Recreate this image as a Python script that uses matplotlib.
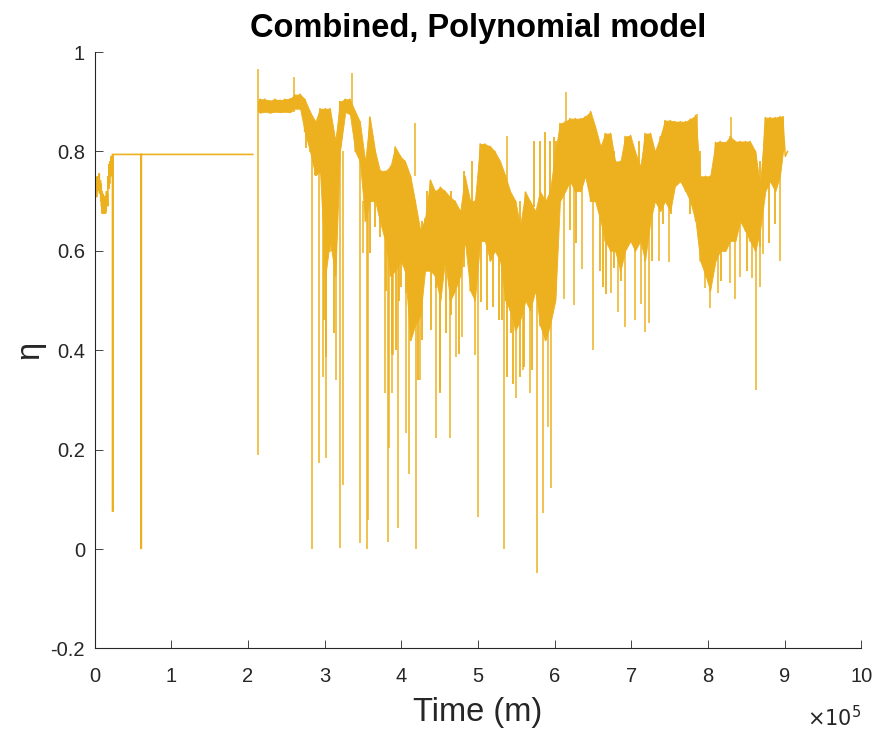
import numpy as np
import matplotlib
matplotlib.use("Agg")
import matplotlib.pyplot as plt
from matplotlib.ticker import FuncFormatter, MultipleLocator

plt.rcParams['font.family'] = ['Liberation Sans', 'DejaVu Sans']
plt.rcParams['axes.unicode_minus'] = False

COLOR = '#EDB120'
AXC = '#262626'

# ---- data (time in thousands of minutes, efficiency eta) ----
# early noisy segment + flat hold segment
early_t = [0, 0.5, 1, 1.5, 2, 2.5, 3.5, 4, 5, 5.5, 6, 6.5, 7.5, 8, 8.5, 9, 9.5, 10, 10.5, 11, 11.5, 12,
           12.5, 13, 13.5, 14, 14.5, 15, 15.5, 16, 16.5, 17, 17.5, 18.5, 19, 19.5, 20, 21, 21.5, 22, 23.5,
           23.5, 23.5, 60.8, 60.8, 60.8, 206.3]
early_y = [0.73, 0.712, 0.748, 0.715, 0.735, 0.708, 0.75, 0.72, 0.745, 0.73, 0.756, 0.715, 0.742, 0.70,
           0.735, 0.69, 0.72, 0.675, 0.715, 0.68, 0.70, 0.675, 0.71, 0.676, 0.70, 0.675, 0.712, 0.678, 0.72,
           0.69, 0.715, 0.69, 0.75, 0.725, 0.775, 0.735, 0.78, 0.75, 0.79, 0.765, 0.794,
           0.075, 0.794, 0.794, 0.0, 0.794, 0.794]

# dense part: envelope of the signal (column time, upper value, lower value)
band_t = [214, 216, 222, 229, 235, 242, 248, 255, 261, 268, 274, 281, 288, 294, 301, 307, 314, 320, 327, 333,
          340, 346, 353, 359, 366, 372, 379, 386, 392, 399, 405, 412, 418, 425, 431, 438, 444, 451, 457, 464,
          470, 477, 483, 490, 496, 503, 509, 516, 522, 529, 536, 542, 549, 555, 562, 568, 575, 581, 588, 594,
          601, 607, 614, 620, 627, 634, 640, 647, 653, 660, 666, 673, 679, 686, 692, 699, 705, 712, 718, 725,
          731, 738, 744, 751, 757, 764, 771, 777, 784, 790, 797, 803, 810, 816, 823, 829, 836, 842, 849, 855,
          862, 868, 875, 881, 888, 894, 898]
band_hi = [0.90, 0.905, 0.905, 0.902, 0.905, 0.903, 0.905, 0.906, 0.914, 0.915, 0.905, 0.88, 0.86, 0.886, 0.886,
           0.886, 0.822, 0.90, 0.905, 0.905, 0.88, 0.86, 0.78, 0.869, 0.80, 0.762, 0.76, 0.77, 0.809, 0.79,
           0.78, 0.75, 0.70, 0.64, 0.665, 0.742, 0.72, 0.728, 0.72, 0.708, 0.70, 0.68, 0.75, 0.70, 0.70, 0.815,
           0.815, 0.81, 0.80, 0.78, 0.75, 0.72, 0.70, 0.65, 0.718, 0.70, 0.68, 0.72, 0.70, 0.72, 0.80, 0.856,
           0.86, 0.866, 0.866, 0.866, 0.87, 0.88, 0.85, 0.81, 0.836, 0.836, 0.78, 0.78, 0.83, 0.832, 0.80,
           0.77, 0.836, 0.836, 0.80, 0.83, 0.862, 0.862, 0.86, 0.86, 0.86, 0.865, 0.872, 0.75, 0.75, 0.75,
           0.818, 0.82, 0.818, 0.83, 0.82, 0.82, 0.82, 0.82, 0.80, 0.73, 0.868, 0.868, 0.868, 0.87, 0.87]
band_lo = [0.88, 0.878, 0.880, 0.878, 0.880, 0.879, 0.880, 0.879, 0.886, 0.886, 0.840, 0.80, 0.752, 0.76, 0.55,
           0.62, 0.55, 0.80, 0.879, 0.875, 0.80, 0.78, 0.66, 0.70, 0.70, 0.66, 0.62, 0.55, 0.56, 0.58,
           0.56, 0.42, 0.45, 0.47, 0.56, 0.56, 0.55, 0.50, 0.58, 0.50, 0.52, 0.55, 0.62, 0.52, 0.50, 0.62,
           0.62, 0.58, 0.60, 0.58, 0.50, 0.48, 0.44, 0.46, 0.50, 0.48, 0.52, 0.45, 0.42, 0.45, 0.50, 0.70,
           0.72, 0.74, 0.72, 0.72, 0.75, 0.70, 0.70, 0.66, 0.62, 0.60, 0.60, 0.56, 0.60, 0.62, 0.60,
           0.62, 0.58, 0.66, 0.70, 0.68, 0.70, 0.68, 0.73, 0.74, 0.72, 0.70, 0.66, 0.58, 0.55, 0.52,
           0.58, 0.60, 0.60, 0.62, 0.62, 0.66, 0.64, 0.62, 0.60, 0.64, 0.72, 0.74, 0.72, 0.75, 0.80]

# isolated excursions of the signal (time, one end, other end)
spike_t = [213.6, 259.5, 283.7, 292.8, 297.7, 301.6, 307.2, 315.0, 320.2, 323.8, 335.5, 346.7, 350.3, 355.1,
           356.4, 379.0, 382.5, 384.6, 388.1, 389.4, 395.6, 406.4, 409.9, 417.8, 419.1, 424.7, 445.6, 450.8,
           463.8, 471.3, 479.1, 495.6, 499.7, 534.0, 537.9, 550.0, 558.8, 567.4, 577.0, 584.9, 591.4, 595.7,
           611.8, 615.3, 624.8, 635.8, 650.1, 674.0, 682.5, 692.3, 704.4, 713.2, 718.4, 722.7, 736.7, 749.8,
           785.9, 796.6, 802.4, 812.8, 828.5, 830.3, 835.9, 842.4, 857.7, 862.9, 867.6, 872.1, 894.7]
spike_a = [0.189, 0.88, 0.0, 0.173, 0.346, 0.183, 0.598, 0.34, 0.002, 0.128, 0.88, 0.012, 0.596, 0.0,
           0.058, 0.313, 0.015, 0.203, 0.314, 0.39, 0.042, 0.233, 0.152, 0.75, 0.0, 0.34, 0.223, 0.32,
           0.223, 0.386, 0.426, 0.39, 0.065, 0.0, 0.72, 0.303, 0.36, 0.313, -0.048, 0.072, 0.245, 0.123,
           0.504, 0.85, 0.492, 0.564, 0.40, 0.515, 0.477, 0.447, 0.46, 0.494, 0.436, 0.454, 0.58, 0.578,
           0.80, 0.525, 0.486, 0.515, 0.535, 0.80, 0.504, 0.547, 0.545, 0.32, 0.527, 0.594, 0.58]
spike_b = [0.966, 0.949, 0.80, 0.76, 0.76, 0.76, 0.80, 0.70, 0.85, 0.80, 0.957, 0.78, 0.70, 0.75,
           0.75, 0.62, 0.62, 0.62, 0.58, 0.58, 0.70, 0.60, 0.60, 0.857, 0.50, 0.55, 0.60, 0.58,
           0.58, 0.58, 0.62, 0.60, 0.70, 0.70, 0.832, 0.52, 0.52, 0.56, 0.55, 0.55, 0.50, 0.55,
           0.80, 0.919, 0.78, 0.78, 0.75, 0.70, 0.70, 0.68, 0.66, 0.68, 0.70, 0.70, 0.72, 0.72,
           0.876, 0.62, 0.62, 0.64, 0.66, 0.869, 0.66, 0.66, 0.66, 0.66, 0.66, 0.74, 0.78]

# shorter excursions inside the noisy band (time, low end, high end)
strand_t = [275.7, 287.6, 296.3, 299.7, 302.0, 309.4, 312.4, 359.4, 366.0, 372.5, 380.0, 387.7, 393.3,
            397.0, 400.0, 406.5, 413.0, 421.8, 427.6, 433.5, 438.2, 445.9, 450.7, 458.5, 464.7, 470.4,
            475.1, 482.4, 492.2, 504.1, 511.4, 519.4, 527.0, 532.0, 538.6, 543.0, 545.6, 555.2, 560.4,
            570.5, 573.5, 581.3, 587.9, 593.5, 598.7, 602.2, 620.5, 628.4, 659.7, 663.2, 667.5, 677.0,
            686.2, 695.3, 709.7, 727.2, 741.5, 752.0, 777.2, 789.8, 794.5, 805.5, 817.2, 851.2, 855.5,
            868.5, 879.4, 888.0]
strand_lo = [0.806, 0.752, 0.728, 0.46, 0.387, 0.60, 0.434, 0.595, 0.648, 0.628, 0.52, 0.393, 0.40,
             0.50, 0.527, 0.515, 0.44, 0.34, 0.42, 0.60, 0.44, 0.525, 0.313, 0.434, 0.47, 0.554,
             0.393, 0.568, 0.565, 0.497, 0.48, 0.487, 0.46, 0.46, 0.346, 0.434, 0.333, 0.346, 0.367,
             0.36, 0.688, 0.655, 0.615, 0.63, 0.695, 0.66, 0.641, 0.615, 0.56, 0.527, 0.514, 0.566,
             0.54, 0.61, 0.62, 0.58, 0.655, 0.675, 0.675, 0.635, 0.635, 0.588, 0.54, 0.56, 0.635,
             0.608, 0.615, 0.655]
strand_hi = [0.88, 0.84, 0.86, 0.85, 0.85, 0.80, 0.80, 0.80, 0.76, 0.74, 0.72, 0.74, 0.76,
             0.78, 0.76, 0.72, 0.70, 0.64, 0.66, 0.72, 0.70, 0.70, 0.70, 0.68, 0.72, 0.70,
             0.68, 0.76, 0.78, 0.80, 0.74, 0.70, 0.68, 0.68, 0.66, 0.68, 0.66, 0.70, 0.68,
             0.66, 0.82, 0.82, 0.84, 0.82, 0.83, 0.82, 0.80, 0.78, 0.80, 0.80, 0.78, 0.80,
             0.78, 0.80, 0.82, 0.82, 0.84, 0.84, 0.85, 0.80, 0.74, 0.72, 0.80, 0.80, 0.80,
             0.78, 0.84, 0.84]

end_t = [896, 898, 901, 904]
end_y = [0.78, 0.86, 0.79, 0.80]

# ---- figure ----
fig = plt.figure(figsize=(8.74, 7.38), dpi=100)
ax = fig.add_axes([0.1083, 0.1213, 0.8770, 0.8082])

t_early = np.array(early_t) * 1e3
ax.plot(t_early, early_y, color=COLOR, lw=1.2, solid_joinstyle='miter')

bt = np.array(band_t) * 1e3
ax.fill_between(bt, band_lo, band_hi, color=COLOR, lw=0.6, edgecolor=COLOR)
# signal trace zig-zagging between the upper and lower value of each column
zz_t = np.repeat(bt, 2)
zz_y = np.ravel(np.column_stack([band_hi, band_lo]))
ax.plot(zz_t, zz_y, color=COLOR, lw=1.2)
ax.vlines(np.array(strand_t) * 1e3, strand_lo, strand_hi, color=COLOR, lw=1.3)
ax.vlines(np.array(spike_t) * 1e3, spike_a, spike_b, color=COLOR, lw=1.1)
ax.plot(np.array(end_t) * 1e3, end_y, color=COLOR, lw=1.1)

ax.set_xlim(0, 1e6)
ax.set_ylim(-0.2, 1.0)
ax.xaxis.set_major_locator(MultipleLocator(1e5))
ax.yaxis.set_major_locator(MultipleLocator(0.2))
ax.xaxis.set_major_formatter(FuncFormatter(lambda v, p: f"{v/1e5:g}"))
ax.yaxis.set_major_formatter(FuncFormatter(lambda v, p: f"{round(v, 1):g}"))

for s in ['top', 'right']:
    ax.spines[s].set_visible(False)
for s in ['left', 'bottom']:
    ax.spines[s].set_color(AXC)
    ax.spines[s].set_linewidth(0.8)
ax.tick_params(direction='in', length=6, width=0.6, colors=AXC, labelsize=14.5)
ax.tick_params(axis='x', pad=13)
ax.tick_params(axis='y', pad=7)

ax.set_title('Combined, Polynomial model', fontsize=23.5, fontweight='bold', pad=11, color='black')
ax.set_xlabel('Time (m)', fontsize=23.5, color=AXC, labelpad=8)
ax.set_ylabel('η', fontsize=23.5, color=AXC, labelpad=4)
ax.text(1.0, -0.095, r'$\times 10^{5}$', transform=ax.transAxes, ha='right', va='top',
        fontsize=15, color=AXC)

fig.savefig('out.png', dpi=100)
